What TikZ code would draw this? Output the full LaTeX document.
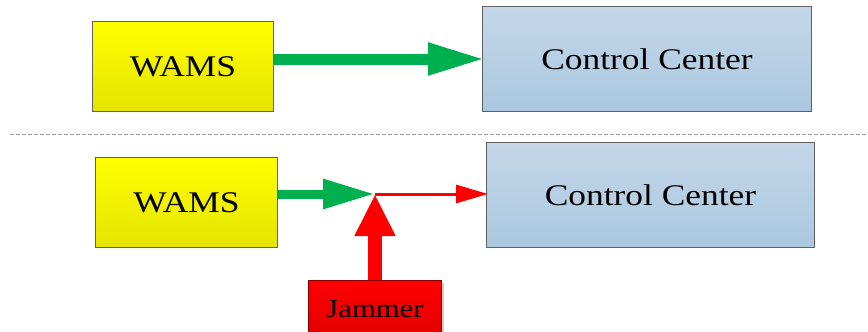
\documentclass[tikz,border=0pt]{standalone}
\usepackage{fontspec}
\setmainfont{Liberation Serif}
\usetikzlibrary{arrows.meta}
\definecolor{wamsTop}{HTML}{FFFF00}
\definecolor{wamsBot}{HTML}{E4E400}
\definecolor{ccTop}{HTML}{C4D7E9}
\definecolor{ccBot}{HTML}{AAC8E0}
\definecolor{jamTop}{HTML}{FF0000}
\definecolor{jamBot}{HTML}{E20000}
\definecolor{boxEdge}{HTML}{5F5F5F}
\definecolor{linkGreen}{HTML}{00B050}
\definecolor{linkRed}{HTML}{FF0000}
\newcommand{\wide}[1]{\scalebox{1.18}[1]{#1}}
\tikzset{
  box/.style={draw=boxEdge, line width=1pt, inner sep=0pt, anchor=north west},
  wams/.style={box, top color=wamsTop, bottom color=wamsBot,
    font=\fontsize{30}{30}\selectfont},
  center/.style={box, top color=ccTop, bottom color=ccBot,
    font=\fontsize{30}{30}\selectfont},
  jammer/.style={box, draw=jamBot!60!black, top color=jamTop, bottom color=jamBot,
    font=\fontsize{26}{26}\selectfont},
  divider/.style={draw=gray!80, line width=1pt, dash pattern=on 4pt off 2pt},
  biglink/.style={draw=linkGreen, line width=11pt,
    -{Triangle[length=57pt,width=30pt]}},
  midlink/.style={draw=linkGreen, line width=9pt,
    -{Triangle[length=52pt,width=28pt]}},
  thinlink/.style={draw=linkRed, line width=3pt,
    -{Triangle[length=32pt,width=18pt]}},
  jamlink/.style={draw=linkRed, line width=14pt,
    -{Triangle[length=42pt,width=38pt]}}
}
\begin{document}
\begin{tikzpicture}[x=1pt, y=-1pt]
  \useasboundingbox (0,0) rectangle (868,332);
  \clip (0,0) rectangle (868,332);

  % upper scenario: undisturbed link
  \node[wams, minimum width=181pt, minimum height=90pt] (w1) at (92,21) {\wide{WAMS}};
  \node[center, minimum width=329pt, minimum height=105pt] (c1) at (482,6) {\wide{Control Center}};
  \draw[biglink] (w1.east |- 0,59) -- ([xshift=3pt]c1.west |- 0,59);

  % separator
  \draw[divider] (10,134) -- (868,134);

  % lower scenario: jammed link
  \node[wams, minimum width=182pt, minimum height=90pt] (w2) at (95,157) {\wide{WAMS}};
  \node[center, minimum width=328pt, minimum height=105pt] (c2) at (486,142) {\wide{Control Center}};
  \fill[gray!40] (441,283) rectangle (444,340);
  \node[jammer, minimum width=133pt, minimum height=58pt] (jam) at (308,280) {\wide{Jammer}};
  \coordinate (j) at (375,194);
  \draw[thinlink] (j) -- ([xshift=2pt]c2.west |- j);
  \draw[midlink] (w2.east |- j) -- (j);
  \draw[jamlink] (jam.north -| j) -- (j);
\end{tikzpicture}
\end{document}
